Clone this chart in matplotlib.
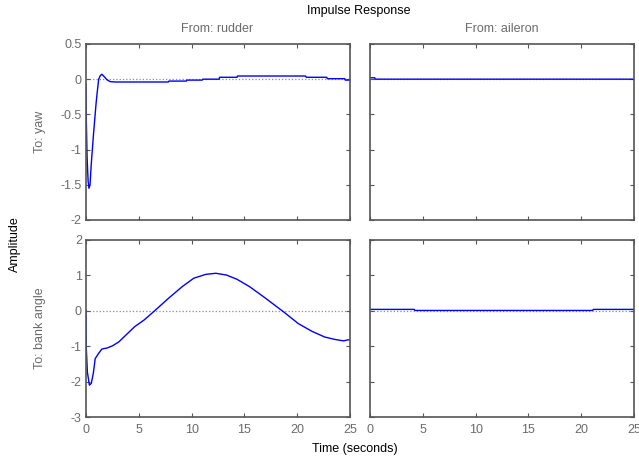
import matplotlib
matplotlib.use("Agg")
import matplotlib.pyplot as plt

plt.rcParams['font.family'] = ['Liberation Sans', 'DejaVu Sans']
plt.rcParams['axes.unicode_minus'] = False

# --- data ---
# rudder -> yaw
t_yaw_r = [0, 0.02, 0.1, 0.2, 0.28, 0.38, 0.5, 0.6, 0.7, 0.85, 0.95, 1.05, 1.2, 1.35, 1.5, 1.7,
           2.0, 2.3, 2.8, 7.8, 7.85, 9.5, 9.55, 11.0, 11.07, 12.6, 12.65, 14.3, 14.35,
           20.8, 20.86, 22.8, 22.85, 24.5, 24.55, 25]
y_yaw_r = [-0.08, -0.5, -1.1, -1.45, -1.55, -1.5, -1.2, -1.0, -0.8, -0.53, -0.35, -0.2, 0.0, 0.05, 0.07, 0.04,
           -0.01, -0.035, -0.04, -0.04, -0.027, -0.027, -0.013, -0.013, 0.0, 0.0, 0.027, 0.027, 0.045,
           0.045, 0.027, 0.027, 0.007, 0.007, -0.013, -0.013]

# aileron -> yaw
t_yaw_a = [0, 0.45, 0.5, 25]
y_yaw_a = [0.02, 0.02, 0.0, 0.0]

# rudder -> bank angle
t_bank_r = [0, 0.02, 0.13, 0.32, 0.5, 0.7, 0.87, 1.2, 1.5, 2.0, 2.5, 3.1, 4.6, 5.5, 6.5, 7.8, 9.1,
            10.2, 11.35, 12.3, 13.3, 14.3, 15.5, 16.8, 18.8, 20.1, 21.4, 22.6, 23.6, 24.4, 24.8, 25]
y_bank_r = [0.0, -1.0, -1.73, -2.1, -2.05, -1.75, -1.35, -1.2, -1.08, -1.05, -0.99, -0.88, -0.45, -0.26, 0.0,
            0.35, 0.68, 0.92, 1.03, 1.06, 1.01, 0.89, 0.68, 0.4, -0.05, -0.36, -0.58, -0.74, -0.81, -0.85,
            -0.82, -0.82]

# aileron -> bank angle
t_bank_a = [0, 4.2, 4.25, 21.1, 21.15, 25]
y_bank_a = [0.04, 0.04, 0.01, 0.01, 0.04, 0.04]

x_ticks = [0, 5, 10, 15, 20, 25]
yaw_ticks = [-2, -1.5, -1, -0.5, 0, 0.5]
bank_ticks = [-3, -2, -1, 0, 1, 2]

grey = '#6b6b6b'
fs = 9
fig = plt.figure(figsize=(6.39, 4.61), dpi=100)

L, W, R = 0.1346, 0.4131, 0.579
pos = {
    (0, 0): [L, 0.5228, W, 0.3818],
    (0, 1): [R, 0.5228, W, 0.3818],
    (1, 0): [L, 0.0954, W, 0.384],
    (1, 1): [R, 0.0954, W, 0.384],
}
data = {
    (0, 0): (t_yaw_r, y_yaw_r),
    (0, 1): (t_yaw_a, y_yaw_a),
    (1, 0): (t_bank_r, y_bank_r),
    (1, 1): (t_bank_a, y_bank_a),
}

for (r, c), p in pos.items():
    ax = fig.add_axes(p)
    ax.axhline(0, color='0.55', ls=':', lw=0.9, zorder=1)
    t, y = data[(r, c)]
    ax.plot(t, y, color='blue', lw=1.0, zorder=2)
    ax.set_xlim(0, 25)
    ax.set_xticks(x_ticks)
    ax.set_xticklabels(['%g' % v for v in x_ticks])
    yt = yaw_ticks if r == 0 else bank_ticks
    ax.set_ylim(yt[0], yt[-1])
    ax.set_yticks(yt)
    ax.set_yticklabels(['%g' % v for v in yt])
    ax.tick_params(direction='in', length=3, width=0.8, color='#555555', labelcolor=grey,
                   labelsize=fs, top=True, right=True, pad=3)
    for s in ax.spines.values():
        s.set_color('#555555')
        s.set_linewidth(1.2)
    if r == 0:
        ax.tick_params(labelbottom=False)
    if c == 1:
        ax.tick_params(labelleft=False)
    if r == 1:
        ax.tick_params(axis='x', pad=5)

fig.text(0.561, 0.977, 'Impulse Response', ha='center', va='center', fontsize=fs, color='black')
fig.text(0.339, 0.937, 'From: rudder', ha='center', va='center', fontsize=fs, color=grey)
fig.text(0.785, 0.937, 'From: aileron', ha='center', va='center', fontsize=fs, color=grey)
fig.text(0.063, 0.714, 'To: yaw', ha='center', va='center', rotation=90, fontsize=fs, color=grey)
fig.text(0.063, 0.288, 'To: bank angle', ha='center', va='center', rotation=90, fontsize=fs, color=grey)
fig.text(0.024, 0.47, 'Amplitude', ha='center', va='center', rotation=90, fontsize=fs, color='black')
fig.text(0.556, 0.026, 'Time (seconds)', ha='center', va='center', fontsize=fs, color='black')

fig.savefig('out.png', dpi=100)
